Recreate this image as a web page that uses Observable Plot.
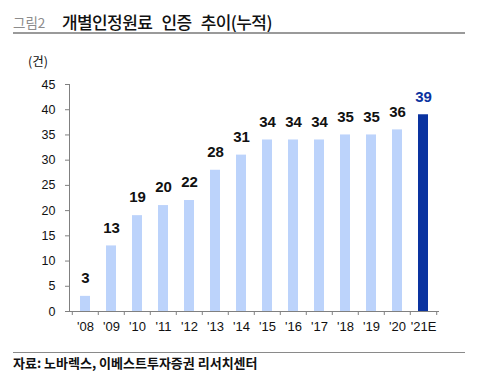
<!DOCTYPE html>
<html>
<head>
<meta charset="utf-8">
<script src="https://cdn.jsdelivr.net/npm/d3@7"></script>
<script src="https://cdn.jsdelivr.net/npm/@observablehq/plot@0.6"></script>
<style>
  html, body { margin: 0; padding: 0; background: #fff; }
  #wrap { position: relative; width: 481px; height: 386px; overflow: hidden; background: #fff; font-family: "Noto Sans CJK KR", "Noto Sans", sans-serif; }
  .abs { position: absolute; white-space: nowrap; }
  #fig { left: 13px; top: 13px; font-size: 13.5px; color: #8c8c8c; line-height: 18px; }
  #title { left: 62px; top: 12px; font-size: 17px; color: #111; font-weight: 500; line-height: 20px; letter-spacing: -0.6px; word-spacing: 6px; }
  #tline { left: 13px; top: 32px; width: 452px; height: 2px; background: #9a9a9a; }
  #unit { left: 28px; top: 54px; font-size: 12.5px; color: #111; line-height: 14px; }
  #bline { left: 13px; top: 352px; width: 452px; height: 1px; background: #8a8a8a; }
  #src { left: 13px; top: 355px; font-size: 13px; color: #111; font-weight: bold; line-height: 16px; }
  #chart { left: 0; top: 40px; }
</style>
</head>
<body>
<div id="wrap">
  <div class="abs" id="fig">그림2</div>
  <div class="abs" id="title">개별인정원료 인증 추이(누적)</div>
  <div class="abs" id="tline"></div>
  <div class="abs" id="unit">(건)</div>
  <div class="abs" id="chart"></div>
  <div class="abs" id="bline"></div>
  <div class="abs" id="src">자료: 노바렉스, 이베스트투자증권 리서치센터</div>
</div>
<script>
const years = ["'08","'09","'10","'11","'12","'13","'14","'15","'16","'17","'18","'19","'20","'21E"];
const counts = [3, 13, 19, 21, 22, 28, 31, 34, 34, 34, 35, 35, 36, 39];
const labels = ["3","13","19","20","22","28","31","34","34","34","35","35","36","39"];
const yTicks = [0, 5, 10, 15, 20, 25, 30, 35, 40, 45];
const estimateYear = "'21E";

const data = years.map((y, i) => ({year: y, count: counts[i], label: labels[i], est: y === estimateYear}));

const W = 481, H = 300, ML = 69, MR = 42, MT = 44, MB = 29;
const step = (W - ML - MR) / years.length;
const light = "#bcd3fb", dark = "#0a33a0", axisCol = "#808080";

const chart = Plot.plot({
  width: W, height: H,
  marginLeft: ML, marginRight: MR, marginTop: MT, marginBottom: MB,
  style: {fontFamily: "'Liberation Sans Narrow','Liberation Sans',Arial,sans-serif", fontSize: "13px", color: "#111", background: "transparent"},
  x: {domain: years, paddingInner: 0.6, paddingOuter: 0.3, label: null},
  y: {domain: [0, 45], label: null},
  marks: [
    Plot.barY(data, {x: "year", y: "count", fill: d => d.est ? dark : light}),
    Plot.frame({anchor: "left", stroke: axisCol}),
    Plot.ruleY([0], {stroke: axisCol}),
    Plot.axisY(yTicks, {tickSize: 4, tickPadding: 10, stroke: axisCol, fill: "#111", fontSize: 12.5, label: null}),
    Plot.axisX({tickSize: 4, text: null, dx: -step / 2, stroke: axisCol, label: null}),
    Plot.axisX([years[years.length - 1]], {tickSize: 4, text: null, dx: step / 2, stroke: axisCol, label: null}),
    Plot.axisX({tickSize: 0, tickPadding: 10, fill: "#111", fontSize: 13, label: null}),
    Plot.text(data, {x: "year", y: "count", text: "label", dy: -18, lineAnchor: "middle", fontWeight: "bold", fontSize: 15, fill: d => d.est ? dark : "#111"})
  ]
});
document.getElementById("chart").appendChild(chart);
</script>
</body>
</html>
